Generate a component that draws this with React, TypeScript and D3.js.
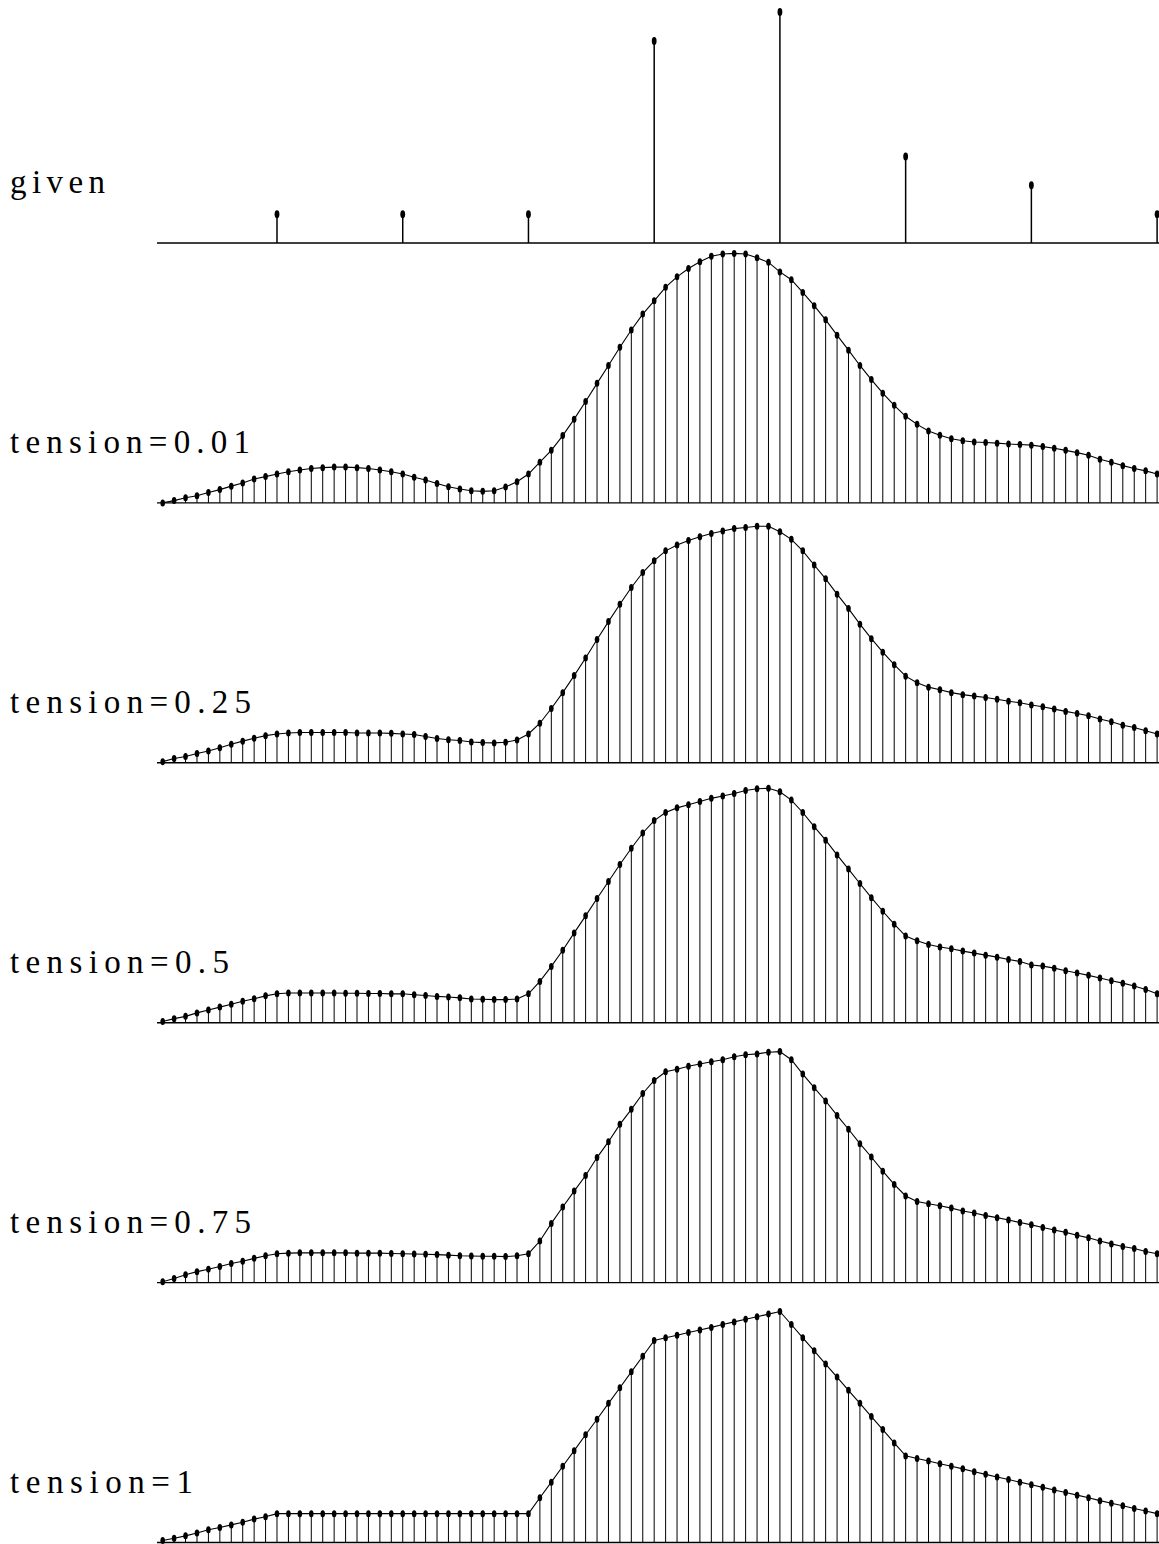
import React from 'react';
import * as d3 from 'd3';

// given samples (value units) and the output sample index where each sits
const given = [1, 1, 1, 7, 8, 3, 2, 1];
const givenAt = [10, 21, 32, 43, 54, 65, 76, 87];

const tensionLabels = ['0.01', '0.25', '0.5', '0.75', '1'];

// interpolated outputs, 88 samples each
const t001 = [
  0.00, 0.08, 0.18, 0.25, 0.36, 0.46, 0.58, 0.69, 0.83, 0.91,
  1.00, 1.08, 1.14, 1.19, 1.22, 1.24, 1.24, 1.22, 1.19, 1.14,
  1.08, 1.00, 0.89, 0.79, 0.67, 0.56, 0.48, 0.42, 0.40, 0.42,
  0.55, 0.73, 1.00, 1.41, 1.82, 2.33, 2.90, 3.51, 4.14, 4.76,
  5.39, 5.99, 6.54, 7.00, 7.47, 7.83, 8.12, 8.35, 8.54, 8.62,
  8.64, 8.62, 8.49, 8.33, 8.00, 7.73, 7.29, 6.83, 6.34, 5.81,
  5.29, 4.76, 4.27, 3.80, 3.38, 3.00, 2.72, 2.49, 2.34, 2.22,
  2.15, 2.11, 2.09, 2.07, 2.04, 2.02, 2.00, 1.95, 1.89, 1.82,
  1.74, 1.65, 1.51, 1.41, 1.29, 1.19, 1.11, 1.00,
];
const t025 = [
  0.04, 0.15, 0.22, 0.32, 0.41, 0.52, 0.64, 0.75, 0.85, 0.94,
  1.00, 1.03, 1.05, 1.05, 1.05, 1.05, 1.05, 1.03, 1.03, 1.03,
  1.02, 1.00, 0.98, 0.91, 0.84, 0.80, 0.77, 0.72, 0.70, 0.69,
  0.71, 0.79, 1.00, 1.37, 1.88, 2.43, 3.02, 3.63, 4.27, 4.89,
  5.49, 6.07, 6.59, 7.00, 7.34, 7.54, 7.70, 7.83, 7.94, 8.03,
  8.11, 8.15, 8.19, 8.19, 8.00, 7.74, 7.34, 6.85, 6.37, 5.84,
  5.34, 4.80, 4.30, 3.83, 3.40, 3.00, 2.77, 2.62, 2.53, 2.43,
  2.36, 2.31, 2.26, 2.20, 2.13, 2.08, 2.00, 1.94, 1.86, 1.78,
  1.71, 1.63, 1.52, 1.42, 1.30, 1.22, 1.11, 1.00,
];
const t05 = [
  0.04, 0.14, 0.22, 0.34, 0.44, 0.54, 0.64, 0.74, 0.83, 0.93,
  1.00, 1.03, 1.03, 1.03, 1.03, 1.03, 1.02, 1.02, 1.01, 1.01,
  1.00, 1.00, 0.97, 0.94, 0.91, 0.89, 0.86, 0.82, 0.81, 0.80,
  0.80, 0.82, 1.00, 1.43, 1.95, 2.51, 3.11, 3.70, 4.30, 4.89,
  5.48, 6.04, 6.57, 7.00, 7.28, 7.44, 7.55, 7.66, 7.77, 7.85,
  7.94, 8.04, 8.10, 8.12, 8.00, 7.71, 7.28, 6.79, 6.32, 5.81,
  5.32, 4.82, 4.33, 3.86, 3.41, 3.00, 2.84, 2.71, 2.62, 2.56,
  2.48, 2.41, 2.34, 2.27, 2.19, 2.12, 2.00, 1.96, 1.89, 1.80,
  1.72, 1.64, 1.55, 1.45, 1.37, 1.27, 1.15, 1.00,
];
const t075 = [
  0.03, 0.14, 0.27, 0.38, 0.46, 0.56, 0.66, 0.74, 0.84, 0.93,
  1.00, 1.02, 1.03, 1.03, 1.03, 1.03, 1.03, 1.02, 1.02, 1.02,
  1.01, 1.00, 0.99, 0.98, 0.97, 0.95, 0.93, 0.92, 0.91, 0.91,
  0.90, 0.93, 1.00, 1.44, 2.05, 2.62, 3.17, 3.71, 4.33, 4.88,
  5.48, 6.00, 6.55, 7.00, 7.30, 7.39, 7.49, 7.57, 7.65, 7.72,
  7.82, 7.89, 7.92, 7.98, 8.00, 7.72, 7.22, 6.75, 6.29, 5.79,
  5.31, 4.81, 4.35, 3.86, 3.40, 3.00, 2.81, 2.73, 2.66, 2.58,
  2.48, 2.41, 2.32, 2.25, 2.17, 2.08, 2.00, 1.91, 1.82, 1.74,
  1.64, 1.55, 1.44, 1.34, 1.25, 1.18, 1.08, 1.00,
];
const t1 = [
  0.07, 0.15, 0.23, 0.33, 0.44, 0.52, 0.61, 0.70, 0.81, 0.89,
  1.00, 1.00, 1.00, 1.00, 1.00, 1.00, 1.00, 1.00, 1.00, 1.00,
  1.00, 1.00, 1.00, 1.00, 1.00, 1.00, 1.00, 1.00, 1.00, 1.00,
  1.00, 1.00, 1.00, 1.55, 2.09, 2.64, 3.18, 3.73, 4.27, 4.82,
  5.36, 5.91, 6.45, 7.00, 7.09, 7.18, 7.27, 7.36, 7.45, 7.55,
  7.64, 7.73, 7.82, 7.91, 8.00, 7.55, 7.09, 6.64, 6.18, 5.73,
  5.27, 4.82, 4.36, 3.91, 3.45, 3.00, 2.91, 2.82, 2.73, 2.64,
  2.55, 2.45, 2.36, 2.27, 2.18, 2.09, 2.00, 1.91, 1.82, 1.73,
  1.64, 1.55, 1.45, 1.36, 1.27, 1.18, 1.09, 1.00,
];
const series = [t001, t025, t05, t075, t1];

const W = 1159;
const H = 1544;
const font = '"Liberation Serif", "DejaVu Serif", serif';

export default function App() {
  const x = d3.scaleLinear().domain([0, 87]).range([162.7, 1157.1]);
  const h = d3.scaleLinear().domain([0, 8]).range([0, 231]);
  const base = (i: number) => 243 + 259.9 * i;
  const axisX0 = 157;
  const axisX1 = W;

  const labelWidths: Record<string, number> = {
    given: 95,
    '0.01': 240,
    '0.25': 241,
    '0.5': 219,
    '0.75': 241,
    '1': 183,
  };

  return (
    <svg
      width={W}
      height={H}
      viewBox={`0 0 ${W} ${H}`}
      style={{ position: 'absolute', left: 0, top: 0, background: '#fff' }}
    >
      <rect width={W} height={H} fill="#fff" />

      {/* given panel */}
      <g>
        <text
          x={10}
          y={base(0) - 50}
          fontFamily={font}
          fontSize={33}
          textLength={labelWidths.given}
          lengthAdjust="spacing"
          fill="#000"
        >
          given
        </text>
        <line x1={axisX0} x2={axisX1} y1={base(0)} y2={base(0)} stroke="#000" strokeWidth={1.6} />
        {given.map((v, i) => {
          const cx = x(givenAt[i]);
          const cy = base(0) - h(v);
          return (
            <g key={i}>
              <line x1={cx} x2={cx} y1={base(0)} y2={cy} stroke="#000" strokeWidth={1.5} />
              <ellipse cx={cx} cy={cy} rx={2.4} ry={4} fill="#000" />
            </g>
          );
        })}
      </g>

      {series.map((vals, s) => {
        const b = base(s + 1);
        const line = d3
          .line<number>()
          .x((_, k) => x(k))
          .y((v) => b - h(v));
        const label = tensionLabels[s];
        return (
          <g key={s}>
            <text
              x={10}
              y={b - 50}
              fontFamily={font}
              fontSize={33}
              textLength={labelWidths[label]}
              lengthAdjust="spacing"
              fill="#000"
            >
              {`tension=${label}`}
            </text>
            <line x1={axisX0} x2={axisX1} y1={b} y2={b} stroke="#000" strokeWidth={1.4} />
            {vals.map((v, k) => (
              <line
                key={`s${k}`}
                x1={x(k)}
                x2={x(k)}
                y1={b}
                y2={b - h(v)}
                stroke="#000"
                strokeWidth={1}
              />
            ))}
            <path d={line(vals) || ''} fill="none" stroke="#000" strokeWidth={1.1} />
            {vals.map((v, k) => (
              <ellipse key={`d${k}`} cx={x(k)} cy={b - h(v)} rx={2.3} ry={3.5} fill="#000" />
            ))}
          </g>
        );
      })}
    </svg>
  );
}
